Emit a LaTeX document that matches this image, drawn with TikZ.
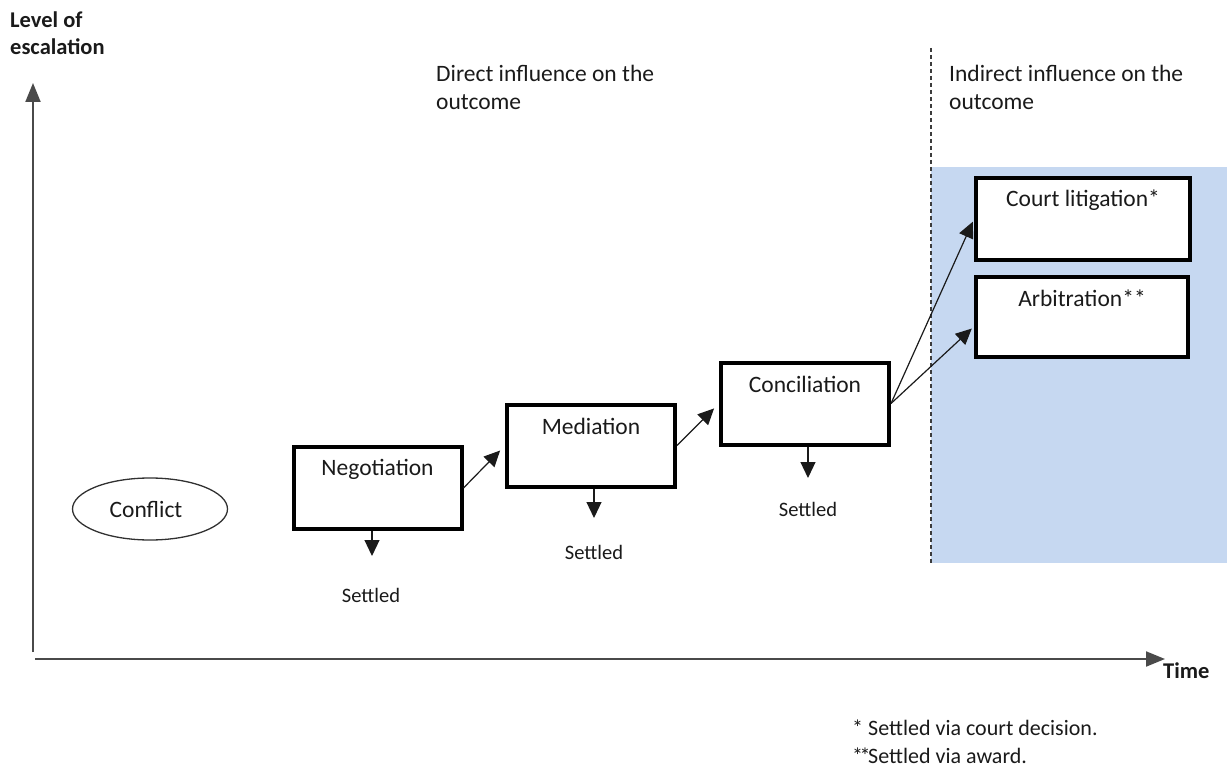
\documentclass[tikz,border=0pt]{standalone}
\usepackage{fontspec}
\setmainfont{Carlito}
\usetikzlibrary{arrows.meta,shapes.geometric}
\definecolor{ink}{HTML}{1A1A1A}
\definecolor{axisgray}{HTML}{4A4A4A}
\definecolor{zoneblue}{HTML}{C6D8F1}
\tikzset{
  txt/.style={font=\fontsize{23.5}{28}\selectfont, text=ink, inner sep=0pt},
  boldtxt/.style={font=\fontsize{22.5}{27}\selectfont\bfseries, text=ink, inner sep=0pt},
  settledtxt/.style={font=\fontsize{20.5}{24}\selectfont, text=ink, inner sep=0pt},
  stagebox/.style={draw=black, line width=4pt, fill=white, rectangle, inner sep=0pt,
    minimum width=168pt, minimum height=82pt},
  boxlabel/.style={label={[txt, anchor=center, yshift=-24pt]north:#1}},
  tip/.style={-{Triangle[length=16pt,width=15pt]}, line width=1.2pt, draw=ink},
  axis/.style={-{Triangle[length=19pt,width=15pt]}, line width=2pt, draw=axisgray},
}
\begin{document}
\begin{tikzpicture}[x=1pt,y=-1pt]
\useasboundingbox (0,0) rectangle (1227,773);

% shaded zone of indirect influence and its dashed border
\fill[zoneblue] (931,167) rectangle (1227,563);
\coordinate (divTop) at (931,48);
\coordinate (divBot) at (931,563);
\draw[draw=ink!85, line width=1.8pt, dash pattern=on 4pt off 3pt] (divTop) -- (divBot);

% axes
\coordinate (yBot) at (33,652);
\coordinate (yTop) at (33,83);
\coordinate (xLeft) at (35,659);
\coordinate (xRight) at (1165,659);
\draw[axis] (yBot) -- (yTop);
\draw[axis] (xLeft) -- (xRight);
\node[boldtxt, anchor=north west, align=left] (ylab) at (10,12) {Level of\\escalation};
\node[boldtxt, anchor=base west] (xlab) at (1163,678) {Time};

% zone headings
\node[txt, anchor=north west, align=left] (direct) at (436,65) {Direct influence on the\\outcome};
\node[txt, anchor=north west, align=left] (indirect) at (949,65) {Indirect influence on the\\outcome};

% starting point
\node[draw=ink!90, line width=1.3pt, ellipse, minimum width=155pt, minimum height=62pt, inner sep=0pt]
  (conflict) at (150,509) {};
\node[txt] (conflictlab) at (146,509) {Conflict};

% escalation stages
\node[stagebox, boxlabel=Negotiation] (neg) at (377.5,488) {};
\node[stagebox, boxlabel=Mediation] (med) at (591,445.5) {};
\node[stagebox, boxlabel=Conciliation] (con) at (805,403.5) {};
\node[stagebox, minimum width=214pt, boxlabel=Court litigation*] (court) at (1083,219) {};
\node[stagebox, minimum width=212pt, minimum height=80pt, boxlabel=Arbitration**] (arb) at (1082,316.5) {};

% escalation arrows
\draw[tip, shorten >=7pt] (neg.east) -- (med.west);
\draw[tip, shorten >=7pt] (med.east) -- (con.west);
\draw[tip, shorten >=3pt] (con.east) -- (court.west);
\draw[tip, shorten >=3pt] (con.east) -- ([yshift=-10pt]arb.west);

% settlement outcomes
\coordinate (negEnd) at (372,556);
\coordinate (medEnd) at (594,518);
\coordinate (conEnd) at (808,478);
\draw[tip] (neg.south -| negEnd) -- (negEnd);
\draw[tip] (med.south -| medEnd) -- (medEnd);
\draw[tip] (con.south -| conEnd) -- (conEnd);
\node[settledtxt] (negSet) at (371,595) {Settled};
\node[settledtxt] (medSet) at (594,552) {Settled};
\node[settledtxt] (conSet) at (808,509) {Settled};

% footnotes
\node[txt, font=\fontsize{22}{28}\selectfont, anchor=north west, align=left] (notes) at (852,720)
  {\makebox[16pt][l]{*}Settled via court decision.\\\makebox[16pt][l]{*\kern-3.5pt*}Settled via award.};
\end{tikzpicture}
\end{document}
